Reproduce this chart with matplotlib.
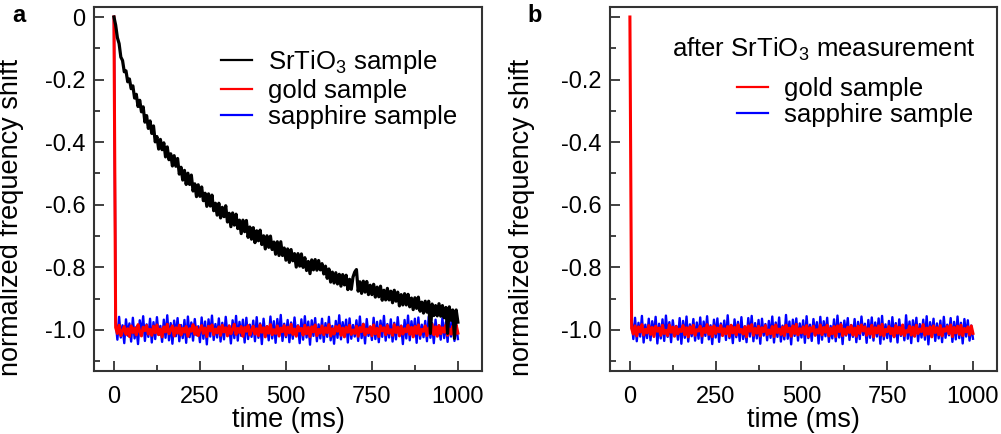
import numpy as np
import matplotlib.pyplot as plt

plt.rcParams['font.family'] = ['Liberation Sans', 'DejaVu Sans']
plt.rcParams['mathtext.fontset'] = 'custom'
plt.rcParams['mathtext.rm'] = 'Liberation Sans'
plt.rcParams['path.simplify'] = False   # keep every noisy sample

# ----------------------------
# Data
# ----------------------------
time_ms = np.arange(0, 1001, 5)      # 0 .. 1000 ms
time_ms_b = np.arange(5, 1001, 5)    # sapphire trace in panel b has no spike

srtio3_a = [0.0,
    -0.026, -0.066, -0.085, -0.128, -0.139, -0.175, -0.172, -0.207, -0.198, -0.229,
    -0.220, -0.259, -0.247, -0.286, -0.266, -0.303, -0.287, -0.336, -0.315, -0.356,
    -0.332, -0.372, -0.348, -0.399, -0.382, -0.422, -0.391, -0.424, -0.402, -0.447,
    -0.415, -0.456, -0.437, -0.476, -0.443, -0.477, -0.452, -0.502, -0.480, -0.521,
    -0.490, -0.535, -0.499, -0.535, -0.505, -0.556, -0.533, -0.574, -0.536, -0.573,
    -0.543, -0.587, -0.563, -0.605, -0.565, -0.604, -0.569, -0.619, -0.595, -0.633,
    -0.595, -0.642, -0.608, -0.638, -0.603, -0.655, -0.627, -0.670, -0.626, -0.665,
    -0.630, -0.676, -0.649, -0.692, -0.649, -0.686, -0.650, -0.704, -0.671, -0.710,
    -0.673, -0.721, -0.683, -0.715, -0.681, -0.727, -0.699, -0.741, -0.699, -0.736,
    -0.700, -0.743, -0.719, -0.758, -0.718, -0.762, -0.718, -0.762, -0.738, -0.777,
    -0.741, -0.784, -0.743, -0.779, -0.756, -0.799, -0.756, -0.796, -0.757, -0.800,
    -0.769, -0.810, -0.781, -0.820, -0.776, -0.808, -0.775, -0.809, -0.778, -0.808,
    -0.788, -0.821, -0.796, -0.835, -0.805, -0.847, -0.815, -0.850, -0.817, -0.853,
    -0.822, -0.860, -0.823, -0.856, -0.825, -0.871, -0.838, -0.870, -0.831, -0.815,
    -0.807, -0.876, -0.846, -0.883, -0.844, -0.879, -0.845, -0.887, -0.857, -0.887,
    -0.854, -0.895, -0.863, -0.894, -0.860, -0.905, -0.873, -0.904, -0.867, -0.904,
    -0.876, -0.913, -0.873, -0.908, -0.879, -0.923, -0.887, -0.920, -0.884, -0.920,
    -0.886, -0.926, -0.898, -0.935, -0.897, -0.931, -0.895, -0.940, -0.911, -0.946,
    -0.908, -0.943, -0.908, -1.011, -0.917, -0.954, -0.922, -0.955, -0.916, -0.956,
    -0.922, -0.961, -0.928, -1.011, -0.926, -0.969, -0.936, -1.027, -0.936, -0.975]

gold_a = [0.0,
    -.992, -1.011, -.985, -1.018, -1.003, -.989, -1.014, -.996, -1.021, -.987,
    -1.008, -.994, -1.016, -.983, -1.005, -1.019, -.991, -1.002, -.986, -1.013,
    -.998, -1.017, -.988, -1.009, -.984, -1.015, -.997, -1.022, -.990, -1.006,
    -.982, -1.012, -1.000, -.987, -1.019, -.993, -1.010, -.985, -1.016, -.995,
    -1.007, -.989, -1.020, -.996, -1.004, -.983, -1.014, -.991, -1.018, -.999,
    -.986, -1.011, -.994, -1.021, -.988, -1.003, -.984, -1.015, -.997, -1.009,
    -.990, -1.017, -.985, -1.006, -.993, -1.019, -.987, -1.012, -.998, -.982,
    -1.014, -.995, -1.008, -.989, -1.020, -.992, -1.004, -.986, -1.016, -1.001,
    -.988, -1.013, -.996, -1.018, -.984, -1.007, -.993, -1.022, -.989, -1.010,
    -.983, -1.015, -.999, -1.011, -.987, -1.019, -.994, -1.005, -.986, -1.017,
    -.991, -1.009, -.982, -1.014, -.997, -1.020, -.988, -1.003, -.995, -1.016,
    -.985, -1.012, -.992, -1.021, -.990, -1.006, -.984, -1.018, -.998, -1.010,
    -.987, -1.015, -.993, -1.008, -.983, -1.019, -.996, -1.013, -.989, -1.004,
    -.986, -1.017, -.994, -1.022, -.991, -1.007, -.985, -1.014, -1.000, -1.011,
    -.988, -1.020, -.992, -1.005, -.982, -1.016, -.997, -1.009, -.990, -1.018,
    -.984, -1.012, -.995, -1.021, -.987, -1.003, -.993, -1.015, -.986, -1.010,
    -.999, -1.017, -.983, -1.008, -.991, -1.019, -.988, -1.013, -.996, -1.006,
    -.985, -1.014, -.992, -1.022, -.989, -1.011, -.984, -1.016, -.998, -1.004,
    -.987, -1.018, -.994, -1.009, -.982, -1.015, -.990, -1.020, -.986, -1.012,
    -.993, -1.007, -.985, -1.017, -.997, -1.013, -.988, -1.021, -.984, -1.010]

sapphire_a = [0.0,
    -.972, -1.031, -.958, -1.024, -.985, -1.042, -.966, -1.018, -.979, -1.037,
    -.961, -1.027, -.990, -1.045, -.969, -1.013, -.956, -1.035, -.982, -1.022,
    -.964, -1.040, -.975, -1.029, -.959, -1.016, -.987, -1.038, -.967, -1.025,
    -.953, -1.033, -.978, -1.044, -.970, -1.020, -.962, -1.036, -.984, -1.026,
    -.968, -1.041, -.957, -1.023, -.976, -1.034, -.965, -1.017, -.988, -1.039,
    -.960, -1.028, -.973, -1.046, -.966, -1.021, -.954, -1.032, -.981, -1.024,
    -.963, -1.037, -.977, -1.030, -.958, -1.015, -.986, -1.043, -.969, -1.026,
    -.955, -1.034, -.974, -1.019, -.967, -1.040, -.961, -1.029, -.983, -1.022,
    -.970, -1.036, -.959, -1.025, -.979, -1.045, -.964, -1.018, -.988, -1.033,
    -.957, -1.027, -.972, -1.041, -.965, -1.020, -.952, -1.035, -.980, -1.023,
    -.968, -1.039, -.976, -1.028, -.960, -1.016, -.985, -1.042, -.966, -1.031,
    -.956, -1.024, -.973, -1.047, -.969, -1.019, -.962, -1.036, -.982, -1.027,
    -.964, -1.038, -.978, -1.022, -.958, -1.033, -.987, -1.044, -.971, -1.025,
    -.953, -1.030, -.975, -1.017, -.967, -1.040, -.963, -1.028, -.984, -1.021,
    -.969, -1.035, -.957, -1.026, -.980, -1.043, -.965, -1.019, -.989, -1.032,
    -.961, -1.029, -.974, -1.039, -.970, -1.022, -.955, -1.034, -.981, -1.024,
    -.966, -1.037, -.977, -1.030, -.959, -1.016, -.986, -1.045, -.968, -1.027,
    -.954, -1.033, -.972, -1.020, -.964, -1.041, -.960, -1.028, -.983, -1.023,
    -.971, -1.036, -.958, -1.025, -.978, -1.042, -.967, -1.018, -.985, -1.031,
    -.962, -1.026, -.975, -1.038, -.969, -1.021, -.956, -1.035, -.980, -1.029]

gold_b = [0.0,
    -.995, -1.013, -.987, -1.019, -.990, -1.006, -.983, -1.016, -.998, -1.009,
    -.986, -1.014, -.992, -1.021, -.988, -1.004, -.994, -1.017, -.985, -1.011,
    -1.001, -1.018, -.984, -1.007, -.991, -1.020, -.989, -1.012, -.997, -1.005,
    -.986, -1.015, -.993, -1.022, -.990, -1.010, -.985, -1.017, -.999, -1.003,
    -.988, -1.019, -.995, -1.008, -.983, -1.014, -.991, -1.021, -.987, -1.011,
    -.994, -1.006, -.986, -1.018, -.996, -1.012, -.989, -1.020, -.985, -1.009,
    -.992, -1.016, -.984, -1.007, -.998, -1.013, -.990, -1.022, -.987, -1.004,
    -.983, -1.017, -.995, -1.010, -.988, -1.019, -.993, -1.005, -.986, -1.015,
    -1.000, -1.012, -.989, -1.021, -.984, -1.008, -.997, -1.014, -.991, -1.018,
    -.985, -1.006, -.994, -1.020, -.987, -1.011, -.982, -1.016, -.996, -1.009,
    -.990, -1.013, -.986, -1.022, -.993, -1.004, -.988, -1.017, -.999, -1.010,
    -.984, -1.015, -.992, -1.007, -.985, -1.019, -.995, -1.012, -.989, -1.021,
    -.987, -1.005, -.983, -1.018, -.997, -1.014, -.991, -1.008, -.986, -1.016,
    -.994, -1.020, -.988, -1.011, -.984, -1.003, -.990, -1.017, -.996, -1.013,
    -.985, -1.022, -.993, -1.009, -.987, -1.015, -.982, -1.019, -.998, -1.006,
    -.989, -1.012, -.995, -1.021, -.986, -1.010, -.992, -1.014, -.984, -1.018,
    -1.002, -1.007, -.988, -1.016, -.991, -1.020, -.985, -1.011, -.997, -1.005,
    -.983, -1.017, -.994, -1.013, -.990, -1.022, -.987, -1.008, -.993, -1.015,
    -.986, -1.019, -.996, -1.004, -.989, -1.012, -.984, -1.021, -.992, -1.009,
    -.988, -1.014, -.985, -1.018, -.995, -1.006, -.990, -1.016, -.987, -1.011]

sapphire_b = [
    -.968, -1.029, -.961, -1.036, -.977, -1.021, -.955, -1.040, -.983, -1.026,
    -.964, -1.033, -.972, -1.018, -.958, -1.043, -.980, -1.027, -.966, -1.035,
    -.954, -1.022, -.975, -1.039, -.969, -1.016, -.987, -1.031, -.962, -1.044,
    -.971, -1.025, -.957, -1.037, -.982, -1.020, -.965, -1.034, -.976, -1.028,
    -.960, -1.041, -.973, -1.019, -.956, -1.030, -.985, -1.045, -.967, -1.024,
    -.963, -1.038, -.979, -1.017, -.970, -1.032, -.953, -1.026, -.984, -1.042,
    -.966, -1.023, -.974, -1.035, -.959, -1.029, -.988, -1.039, -.962, -1.021,
    -.955, -1.036, -.978, -1.027, -.968, -1.044, -.964, -1.018, -.981, -1.033,
    -.971, -1.025, -.957, -1.040, -.976, -1.022, -.960, -1.037, -.986, -1.030,
    -.952, -1.028, -.973, -1.046, -.967, -1.019, -.963, -1.034, -.979, -1.024,
    -.969, -1.041, -.956, -1.026, -.983, -1.035, -.965, -1.017, -.975, -1.043,
    -.958, -1.031, -.972, -1.020, -.961, -1.038, -.987, -1.027, -.966, -1.036,
    -.954, -1.024, -.977, -1.045, -.970, -1.018, -.962, -1.032, -.984, -1.022,
    -.965, -1.039, -.974, -1.029, -.957, -1.016, -.980, -1.041, -.968, -1.025,
    -.960, -1.034, -.976, -1.021, -.963, -1.044, -.955, -1.030, -.982, -1.026,
    -.971, -1.037, -.959, -1.023, -.978, -1.040, -.966, -1.019, -.985, -1.033,
    -.953, -1.028, -.973, -1.042, -.969, -1.020, -.961, -1.036, -.981, -1.024,
    -.967, -1.031, -.956, -1.046, -.975, -1.022, -.964, -1.035, -.979, -1.027,
    -.970, -1.039, -.958, -1.025, -.983, -1.017, -.962, -1.038, -.974, -1.030,
    -.957, -1.026, -.977, -1.043, -.965, -1.021, -.969, -1.034, -.986, -1.028]

x_ticks = [0, 250, 500, 750, 1000]
y_ticks = [0, -0.2, -0.4, -0.6, -0.8, -1.0]
y_labels_a = ['0', '-0.2', '-0.4', '-0.6', '-0.8', '-1.0']
y_labels_b = ['', '-0.2', '-0.4', '-0.6', '-0.8', '-1.0']

# ----------------------------
# Figure and axes
# ----------------------------
fig = plt.figure(figsize=(10.01, 4.34), dpi=100)
ax_a = fig.add_axes([0.0939, 0.1452, 0.3876, 0.8387])
ax_b = fig.add_axes([0.6094, 0.1452, 0.3866, 0.8387])

frame_col = '#333333'
tick_fs = 17
label_fs = 19.5
legend_fs = 18.5


def style_axes(ax, ylabels):
    ax.set_xlim(-58, 1070)
    ax.set_ylim(-1.131, 0.032)
    ax.set_xticks(x_ticks)
    ax.set_xticks(np.arange(125, 1000, 250), minor=True)
    ax.set_yticks(y_ticks)
    ax.set_yticklabels(ylabels)
    ax.set_yticks(np.arange(-1.1, 0, 0.2), minor=True)
    ax.tick_params(which='both', direction='in', color=frame_col, width=1.3,
                   labelsize=tick_fs)
    ax.tick_params(axis='y', pad=6)
    ax.tick_params(axis='x', pad=11)
    ax.tick_params(which='major', length=7)
    ax.tick_params(which='minor', length=4)
    for sp in ax.spines.values():
        sp.set_color(frame_col)
        sp.set_linewidth(1.5)
    ax.set_xlabel('time (ms)', fontsize=label_fs)
    ax.set_ylabel('normalized frequency shift', fontsize=label_fs)
    ax.xaxis.set_label_coords(0.5, -0.1)


def thin_handles(leg):
    for ln in leg.get_lines():
        ln.set_linewidth(1.6)


# ----------------------------
# Panel a
# ----------------------------
l_blue, = ax_a.plot(time_ms, sapphire_a, color='#0000ff', lw=1.7)
l_red, = ax_a.plot(time_ms, gold_a, color='#ff0000', lw=2.2)
l_black, = ax_a.plot(time_ms, srtio3_a, color='black', lw=2.3)
style_axes(ax_a, y_labels_a)
ax_a.yaxis.set_label_coords(-0.180, 0.423)
leg_a = ax_a.legend([l_black, l_red, l_blue],
                    ['SrTiO$_{\\mathregular{3}}$ sample', 'gold sample', 'sapphire sample'],
                    loc='upper left', bbox_to_anchor=(0.327, 0.886), frameon=False,
                    borderpad=0, borderaxespad=0, handlelength=1.2, handletextpad=0.65,
                    labelspacing=0.08, fontsize=legend_fs)
thin_handles(leg_a)

# ----------------------------
# Panel b
# ----------------------------
m_blue, = ax_b.plot(time_ms_b, sapphire_b, color='#0000ff', lw=1.7)
m_red, = ax_b.plot(time_ms, gold_b, color='#ff0000', lw=2.2)
style_axes(ax_b, y_labels_b)
ax_b.yaxis.set_label_coords(-0.194, 0.423)
ax_b.text(0.160, 0.885, 'after SrTiO$_{\\mathregular{3}}$ measurement',
          transform=ax_b.transAxes, va='center', ha='left', fontsize=legend_fs)
leg_b = ax_b.legend([m_red, m_blue], ['gold sample', 'sapphire sample'],
                    loc='upper left', bbox_to_anchor=(0.328, 0.808), frameon=False,
                    borderpad=0, borderaxespad=0, handlelength=1.2, handletextpad=0.65,
                    labelspacing=0.1, fontsize=legend_fs)
thin_handles(leg_b)

# Panel letters
fig.text(0.012, 1 - 15 / 434, 'a', fontsize=17, weight='bold', va='center')
fig.text(0.527, 1 - 15 / 434, 'b', fontsize=17, weight='bold', va='center')

fig.savefig('out.png', dpi=100)
